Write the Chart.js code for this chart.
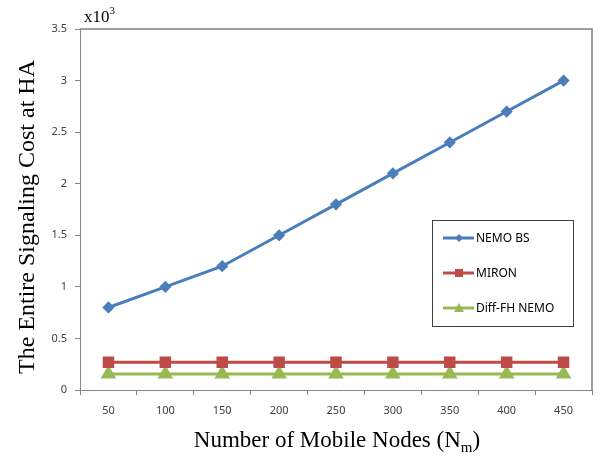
<!DOCTYPE html>
<html>
<head>
<meta charset="utf-8">
<script src="https://cdn.jsdelivr.net/npm/chart.js@4.4.1/dist/chart.umd.min.js"></script>
<style>
  html, body { margin: 0; padding: 0; background: #fff; }
  #wrap { width: 601px; height: 459px; }
</style>
</head>
<body>
<div id="wrap"><canvas id="chart" width="601" height="459"></canvas></div>
<script>
// values (x10^3)
const nodes = ["50", "100", "150", "200", "250", "300", "350", "400", "450"];
const nemoBs = [0.8, 1.0, 1.2, 1.5, 1.8, 2.1, 2.4, 2.7, 3.0];
const miron = [0.27, 0.27, 0.27, 0.27, 0.27, 0.27, 0.27, 0.27, 0.27];
const diffFh = [0.155, 0.155, 0.155, 0.155, 0.155, 0.155, 0.155, 0.155, 0.155];

const BLUE = "#4a7ebb";
const RED = "#be4b48";
const GREEN = "#98b954";
const TICK_FONT = { family: "'Noto Sans', 'Open Sans', sans-serif", size: 11 };
const SERIF = "'Liberation Serif', 'DejaVu Serif', serif";

// titles, x10^3 note, frame and legend box
const decorations = {
  id: "decorations",
  afterDraw(chart) {
    const { ctx, chartArea: a } = chart;
    ctx.save();

    // top + right frame
    ctx.strokeStyle = "#7f7f7f";
    ctx.lineWidth = 1.5;
    ctx.beginPath();
    ctx.moveTo(a.left, a.top);
    ctx.lineTo(a.right, a.top);
    ctx.lineTo(a.right, a.bottom);
    ctx.stroke();

    ctx.fillStyle = "#000";
    ctx.textBaseline = "alphabetic";

    // x10^3
    ctx.font = "17px " + SERIF;
    ctx.textAlign = "left";
    ctx.fillText("x10", 84, 22);
    const w = ctx.measureText("x10").width;
    ctx.font = "11px " + SERIF;
    ctx.fillText("3", 84 + w, 14);

    // y title
    ctx.font = "24px " + SERIF;
    ctx.save();
    ctx.translate(34, 217);
    ctx.rotate(-Math.PI / 2);
    ctx.textAlign = "center";
    ctx.fillText("The Entire Signaling Cost at HA", 0, 0);
    ctx.restore();

    // x title with subscript
    const main = "Number of Mobile Nodes (N";
    ctx.font = "23px " + SERIF;
    const w1 = ctx.measureText(main).width;
    ctx.font = "15px " + SERIF;
    const w2 = ctx.measureText("m").width;
    ctx.font = "23px " + SERIF;
    const w3 = ctx.measureText(")").width;
    let x = 337 - (w1 + w2 + w3) / 2;
    const y = 447;
    ctx.fillText(main, x, y);
    x += w1;
    ctx.font = "15px " + SERIF;
    ctx.fillText("m", x, y + 5);
    x += w2;
    ctx.font = "23px " + SERIF;
    ctx.fillText(")", x, y);

    // legend box
    ctx.strokeStyle = "#404040";
    ctx.lineWidth = 1;
    ctx.strokeRect(432.5, 220.5, 141, 106);
    const rows = [238, 273, 308];
    chart.data.datasets.forEach((ds, i) => {
      const ly = rows[i];
      ctx.strokeStyle = ds.borderColor;
      ctx.lineWidth = 3;
      ctx.beginPath();
      ctx.moveTo(443, ly);
      ctx.lineTo(474, ly);
      ctx.stroke();
      ctx.fillStyle = ds.borderColor;
      ctx.beginPath();
      if (ds.pointStyle === "rectRot") {
        ctx.moveTo(459, ly - 4); ctx.lineTo(463, ly); ctx.lineTo(459, ly + 4); ctx.lineTo(455, ly);
      } else if (ds.pointStyle === "rect") {
        ctx.rect(455, ly - 4, 8, 8);
      } else {
        ctx.moveTo(459, ly - 5); ctx.lineTo(464, ly + 4); ctx.lineTo(454, ly + 4);
      }
      ctx.closePath();
      ctx.fill();
      ctx.fillStyle = "#000";
      ctx.font = "12px 'Noto Sans', 'Open Sans', sans-serif";
      ctx.textAlign = "left";
      ctx.textBaseline = "middle";
      ctx.fillText(ds.label, 476, ly + 1);
    });

    ctx.restore();
  }
};

new Chart(document.getElementById("chart"), {
  type: "line",
  data: {
    labels: nodes,
    datasets: [
      {
        label: "NEMO BS",
        data: nemoBs,
        borderColor: BLUE,
        backgroundColor: BLUE,
        borderWidth: 3,
        pointStyle: "rectRot",
        pointRadius: 4,
        tension: 0
      },
      {
        label: "MIRON",
        data: miron,
        borderColor: RED,
        backgroundColor: RED,
        borderWidth: 3,
        pointStyle: "rect",
        pointRadius: 6,
        tension: 0
      },
      {
        label: "Diff-FH NEMO",
        data: diffFh,
        borderColor: GREEN,
        backgroundColor: GREEN,
        borderWidth: 3,
        pointStyle: "triangle",
        pointRadius: 6,
        tension: 0
      }
    ]
  },
  options: {
    responsive: false,
    animation: false,
    layout: { padding: { top: 29, right: 4, left: 0, bottom: 0 } },
    plugins: {
      legend: { display: false },
      tooltip: { enabled: false }
    },
    scales: {
      x: {
        offset: true,
        grid: {
          offset: true,
          drawOnChartArea: false,
          drawTicks: true,
          tickLength: 5,
          color: "#868686"
        },
        border: { color: "#868686", width: 1 },
        ticks: { color: "#404040", font: TICK_FONT, padding: 9, maxRotation: 0 },
        afterFit(axis) { axis.height = 69; }
      },
      y: {
        min: 0,
        max: 3.5,
        ticks: {
          stepSize: 0.5,
          color: "#404040",
          font: TICK_FONT,
          padding: 8,
          callback: (v) => String(v)
        },
        grid: {
          drawOnChartArea: false,
          drawTicks: true,
          tickLength: 5,
          color: "#868686"
        },
        border: { color: "#868686", width: 1 },
        afterFit(axis) { axis.width = 80; }
      }
    }
  },
  plugins: [decorations]
});
</script>
</body>
</html>
